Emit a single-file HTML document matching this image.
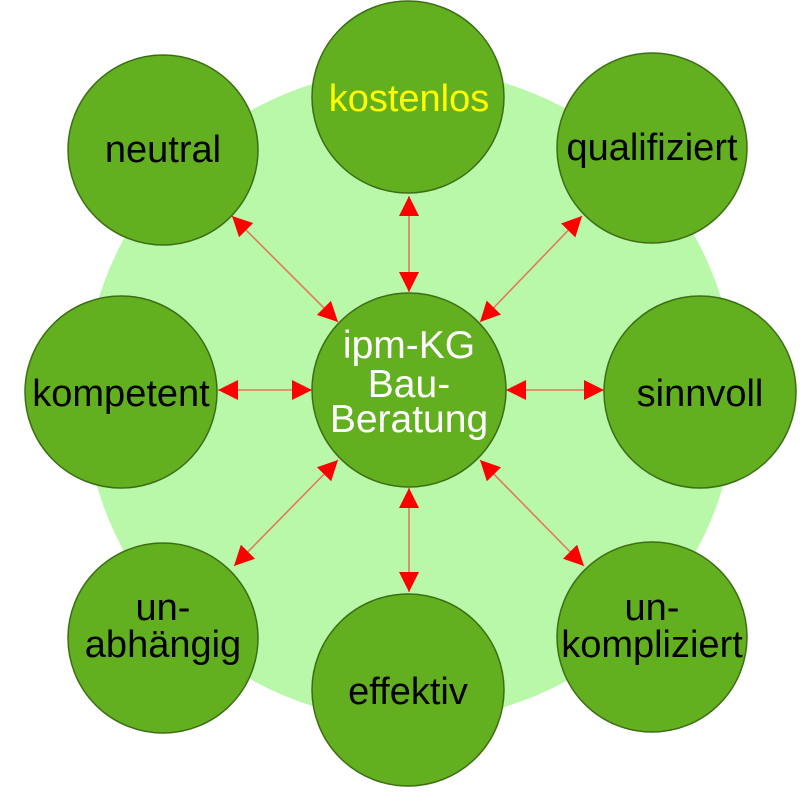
<!DOCTYPE html>
<html><head><style>body{margin:0;background:#fff}svg{display:block}</style></head><body>
<svg width="806" height="804" viewBox="0 0 806 804" xmlns="http://www.w3.org/2000/svg" font-family="Liberation Sans, Arial, sans-serif">
<defs>
<marker id="h" viewBox="0 0 10 10" refX="10" refY="5" markerWidth="20" markerHeight="20" markerUnits="userSpaceOnUse" orient="auto-start-reverse"><path d="M0,0 L10,5 L0,10 z" fill="#ff0000"/></marker>
</defs>
<circle cx="410" cy="395" r="326" fill="#b8f8a8"/>
<g stroke="#e07a5a" stroke-width="1.6" marker-start="url(#h)" marker-end="url(#h)">
<line x1="409" y1="196" x2="409" y2="292"/>
<line x1="409" y1="488" x2="409" y2="592"/>
<line x1="218" y1="390" x2="312" y2="390"/>
<line x1="506" y1="390" x2="604" y2="390"/>
<line x1="232" y1="216" x2="338" y2="322"/>
<line x1="582" y1="216" x2="480" y2="322"/>
<line x1="338" y1="460" x2="234" y2="566"/>
<line x1="480" y1="460" x2="584" y2="566"/>
</g>
<g fill="#62b020" stroke="#3d6e14" stroke-width="1.5">
<circle cx="409" cy="390" r="97"/>
<circle cx="408" cy="97" r="96"/>
<circle cx="163" cy="150" r="95"/>
<circle cx="652" cy="148" r="95"/>
<circle cx="121" cy="392" r="96"/>
<circle cx="700" cy="392" r="96"/>
<circle cx="163" cy="638" r="95"/>
<circle cx="408" cy="690" r="96"/>
<circle cx="652" cy="637" r="95"/>
</g>
<g font-size="38" text-anchor="middle" fill="#000">
<text x="409" y="111" fill="#ffff00">kostenlos</text>
<text x="163" y="162">neutral</text>
<text x="652" y="160">qualifiziert</text>
<text x="121" y="406">kompetent</text>
<text x="700" y="406">sinnvoll</text>
<text x="163" y="620">un-</text>
<text x="163" y="657">abhängig</text>
<text x="408" y="704">effektiv</text>
<text x="652" y="620">un-</text>
<text x="652" y="657">kompliziert</text>
<g fill="#fff" font-size="39">
<text x="409" y="358">ipm-KG</text>
<text x="409" y="397">Bau-</text>
<text x="409" y="432">Beratung</text>
</g>
</g>
</svg>
</body></html>
